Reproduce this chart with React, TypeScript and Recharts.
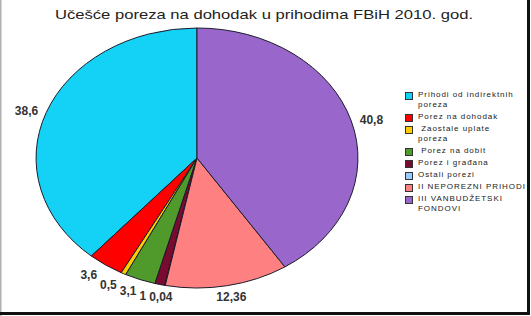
import { Pie, PieChart } from "recharts";

const categories = [
  "Prihodi od indirektnih poreza",
  "Porez na dohodak",
  " Zaostale uplate poreza",
  " Porez na dobit",
  "Porez i građana",
  "Ostali porezi",
  "II NEPOREZNI PRIHODI",
  "III VANBUDŽETSKI FONDOVI",
];
const shares = [38.6, 3.6, 0.5, 3.1, 1, 0.04, 12.36, 40.8];
const colors = [
  "#14d2f5",
  "#ff0000",
  "#ffcc00",
  "#4f9a2b",
  "#7a0a30",
  "#99ccff",
  "#ff8080",
  "#9966cc",
];
const title = "Učešće poreza na dohodak u prihodima FBiH 2010. god.";

const W = 531;
const H = 316;
const CX = 197;
const CY = 158;
const R = 130;
// the picture is a horizontally stretched excel pie
const STRETCH = 1.238;
const LABEL_RX = 1.4;
const LABEL_RY = 1.077;
const RAD = Math.PI / 180;
const FONT = "'Liberation Sans', Arial, sans-serif";

const data = categories.map((name, i) => ({ name, value: shares[i], fill: colors[i] }));

const fmt = (v: number) => String(v).replace(".", ",");
const textWidth = (s: string) => [...s].reduce((w, ch) => w + (ch === "," ? 3.3 : 6.7), 0);

// push apart the small labels crowded at the bottom of the pie
function labelNudges(): number[] {
  const total = shares.reduce((a, b) => a + b, 0);
  let acc = 0;
  const pts = shares.map((v, i) => {
    const mid = 90 + ((acc + v / 2) / total) * 360;
    acc += v;
    return {
      i,
      x: CX + R * LABEL_RX * Math.cos(mid * RAD),
      y: CY - R * LABEL_RY * Math.sin(mid * RAD),
      w: textWidth(fmt(v)),
    };
  });
  const out = shares.map(() => 0);
  const bottom = pts.filter((p) => p.y > CY + 100).sort((a, b) => b.x - a.x);
  for (let k = 1; k < bottom.length; k++) {
    const prev = bottom[k - 1];
    const cur = bottom[k];
    if (Math.abs(prev.y - cur.y) > 10) continue;
    const limit = prev.x - prev.w / 2 - 3 - cur.w / 2;
    if (cur.x > limit) {
      out[cur.i] = limit - cur.x;
      cur.x = limit;
    }
  }
  return out;
}
const nudges = labelNudges();

const renderLabel = (p: any) => {
  const cx = p.cx ?? CX;
  const cy = p.cy ?? CY;
  const r = p.outerRadius ?? R;
  const a = -p.midAngle * RAD;
  const x = cx + r * LABEL_RX * Math.cos(a) + nudges[p.index];
  const y = cy + r * LABEL_RY * Math.sin(a) + 2;
  return (
    <text
      key={p.index}
      x={x}
      y={y}
      textAnchor="middle"
      dominantBaseline="central"
      fill="#333"
      fontSize={12}
      fontWeight="bold"
      fontFamily={FONT}
    >
      {fmt(p.value)}
    </text>
  );
};

function wrap(text: string, max = 22): string[] {
  const words = text.split(" ");
  const lines: string[] = [];
  let line = "";
  words.forEach((w, i) => {
    const next = i === 0 ? w : line + " " + w;
    if (next.length > max && line.trim()) {
      lines.push(line);
      line = w;
    } else {
      line = next;
    }
  });
  lines.push(line);
  return lines;
}

function LegendBox() {
  return (
    <div
      style={{
        position: "absolute",
        left: 405,
        top: 90,
        fontFamily: FONT,
        fontSize: 8,
        letterSpacing: 0.95,
        lineHeight: "10px",
        color: "#222",
      }}
    >
      {categories.map((c, i) => (
        <div key={c} style={{ display: "flex", marginBottom: 2 }}>
          <div
            style={{
              width: 6,
              height: 6,
              marginTop: 2,
              marginRight: 5,
              background: colors[i],
              border: "1px solid #333",
              flex: "none",
            }}
          />
          <div>
            {wrap(c).map((l, j) => (
              <div key={j} style={{ whiteSpace: "pre" }}>
                {l}
              </div>
            ))}
          </div>
        </div>
      ))}
    </div>
  );
}

export default function App() {
  return (
    <div
      className="fbih-pie"
      style={{ position: "absolute", left: 0, top: 0, width: W, height: H, background: "#fff" }}
    >
      <style>{`
        .fbih-pie .recharts-sector {
          transform: scaleX(${STRETCH});
          transform-origin: ${CX}px ${CY}px;
          vector-effect: non-scaling-stroke;
        }
      `}</style>
      <svg width={W} height={H} style={{ position: "absolute", left: 0, top: 0 }}>
        <text x={55} y={19} fontSize={13.5} fontFamily={FONT} fill="#222" textLength={418} lengthAdjust="spacingAndGlyphs">
          {title}
        </text>
        <rect x={0} y={0} width={1.5} height={H} fill="#b0b0b0" />
        <rect x={527} y={0} width={3} height={315} fill="#111" />
        <rect x={0} y={312} width={530} height={3} fill="#111" />
      </svg>
      <div style={{ position: "absolute", left: 0, top: 0 }}>
        <PieChart width={W} height={H} margin={{ top: 0, right: 0, bottom: 0, left: 0 }}>
          <Pie
            data={data}
            dataKey="value"
            nameKey="name"
            cx={CX}
            cy={CY}
            outerRadius={R}
            startAngle={90}
            endAngle={450}
            stroke="#1c1c2a"
            strokeWidth={1}
            label={renderLabel}
            labelLine={false}
            isAnimationActive={false}
          />
        </PieChart>
      </div>
      <LegendBox />
    </div>
  );
}
